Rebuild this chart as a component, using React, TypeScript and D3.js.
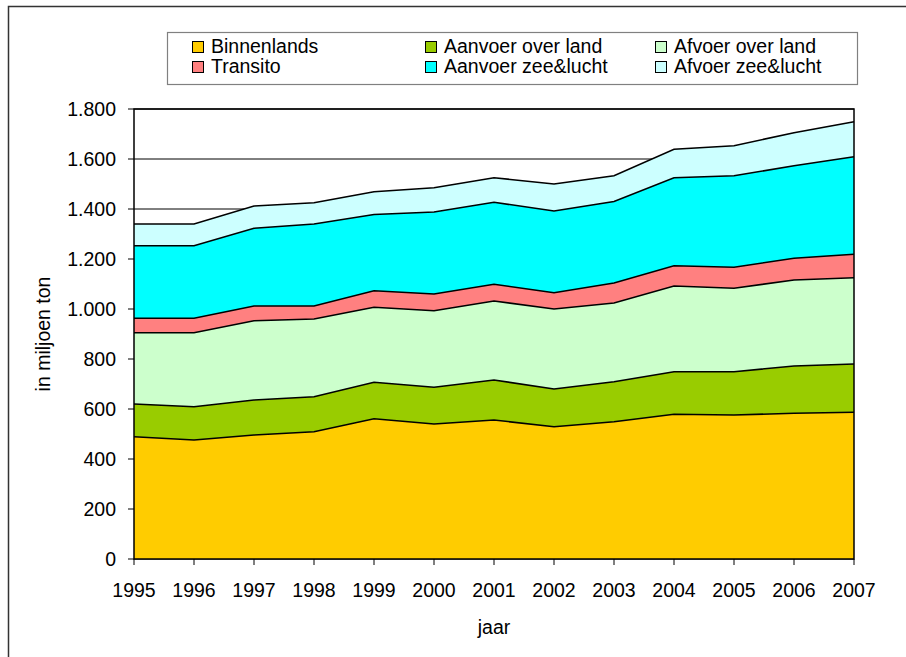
import React from "react";
import * as d3 from "d3";

const years = [1995, 1996, 1997, 1998, 1999, 2000, 2001, 2002, 2003, 2004, 2005, 2006, 2007];
const seriesNames = ["Binnenlands", "Aanvoer over land", "Afvoer over land", "Transito", "Aanvoer zee&lucht", "Afvoer zee&lucht"];
const binnenlands = [489, 476, 496, 509, 561, 540, 556, 529, 549, 579, 576, 583, 587];
const aanvoerLand = [131, 133, 140, 140, 146, 147, 160, 151, 160, 170, 173, 189, 193];
const afvoerLand = [285, 296, 317, 311, 300, 306, 316, 320, 315, 343, 334, 344, 345];
const transito = [58, 58, 59, 52, 66, 67, 67, 65, 80, 81, 84, 87, 94];
const aanvoerZee = [290, 290, 311, 328, 305, 328, 328, 327, 326, 352, 366, 370, 390];
const afvoerZee = [87, 87, 89, 85, 91, 97, 98, 108, 103, 114, 120, 132, 140];
const colors = ["#FFCC00", "#99CC00", "#CCFFCC", "#FF8080", "#00FFFF", "#CCFFFF"];
const yTicks = [0, 200, 400, 600, 800, 1000, 1200, 1400, 1600, 1800];

const FONT = "'Liberation Sans', Arial, sans-serif";

export default function App() {
  const left = 134, right = 854, top = 109, bottom = 559;
  const x = d3.scaleLinear().domain([1995, 2007]).range([left, right]);
  const y = d3.scaleLinear().domain([0, 1800]).range([bottom, top]);
  const seriesData = [binnenlands, aanvoerLand, afvoerLand, transito, aanvoerZee, afvoerZee];
  const rows = years.map((yr, i) => {
    const r: any = { year: yr };
    seriesNames.forEach((n, k) => (r[n] = seriesData[k][i]));
    return r;
  });
  const stacked = d3.stack<any>().keys(seriesNames)(rows);
  const area = d3
    .area<any>()
    .x((d) => x(d.data.year))
    .y0((d) => y(d[0]))
    .y1((d) => y(d[1]));
  const topLine = d3
    .line<any>()
    .x((d) => x(d.data.year))
    .y((d) => y(d[1]));

  const fmt = (v: number) => (v >= 1000 ? d3.format(",")(v).replace(",", ".") : String(v));

  const legendCols = [192, 425, 655];
  const legendRows = [41, 61];
  const AX = 19.5;

  return (
    <svg
      width={906}
      height={657}
      style={{ position: "absolute", left: 0, top: 0, background: "#fff" }}
      fontFamily={FONT}
    >
      <rect x={8.5} y={6.5} width={910} height={670} fill="#fff" stroke="#333" strokeWidth={1.5} />
      {yTicks.map((t) => (
        <line key={"g" + t} x1={left} x2={right} y1={y(t)} y2={y(t)} stroke="#000" strokeWidth={1} />
      ))}
      {stacked.map((s, k) => (
        <path key={"a" + k} d={area(s) || ""} fill={colors[k]} stroke="none" />
      ))}
      {stacked.map((s, k) => (
        <path key={"l" + k} d={topLine(s) || ""} fill="none" stroke="#000" strokeWidth={1.6} />
      ))}
      <rect x={left} y={top} width={right - left} height={bottom - top} fill="none" stroke="#000" strokeWidth={1.5} />
      {yTicks.map((t) => (
        <g key={"yt" + t}>
          <line x1={left - 6} x2={left} y1={y(t)} y2={y(t)} stroke="#000" strokeWidth={1} />
          <text x={116} y={y(t) + 7} textAnchor="end" fontSize={AX} fill="#000">
            {fmt(t)}
          </text>
        </g>
      ))}
      {years.map((yr) => (
        <g key={"xt" + yr}>
          <line x1={x(yr)} x2={x(yr)} y1={bottom} y2={bottom + 6} stroke="#000" strokeWidth={1} />
          <text x={x(yr)} y={597} textAnchor="middle" fontSize={AX} fill="#000">
            {yr}
          </text>
        </g>
      ))}
      <text x={494} y={634} textAnchor="middle" fontSize={AX} fill="#000">
        jaar
      </text>
      <text transform={`translate(50,334) rotate(-90)`} textAnchor="middle" fontSize={AX} fill="#000">
        in miljoen ton
      </text>
      <rect x={167.5} y={32.5} width={690} height={52} fill="#fff" stroke="#808080" strokeWidth={1.2} />
      {seriesNames.map((n, k) => {
        const col = k % 3;
        const row = Math.floor(k / 3);
        const sx = legendCols[col];
        const sy = legendRows[row];
        return (
          <g key={"lg" + k}>
            <rect x={sx + 0.5} y={sy + 0.5} width={11} height={11} fill={colors[k]} stroke="#000" strokeWidth={1} />
            <text x={sx + 19} y={sy + 11.5} fontSize={19.5} fill="#000">
              {n}
            </text>
          </g>
        );
      })}
    </svg>
  );
}
